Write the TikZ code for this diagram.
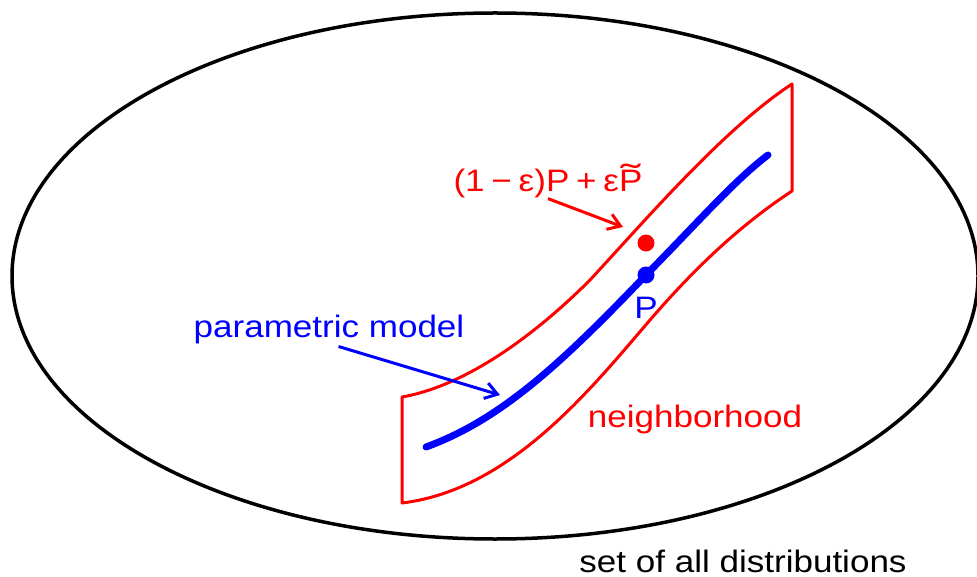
\documentclass[tikz,border=0pt]{standalone}
\usepackage{fontspec}
\setmainfont{Liberation Sans}[FakeStretch=1.13]
\usetikzlibrary{arrows.meta}
\definecolor{nbred}{RGB}{255,0,0}
\definecolor{modblue}{RGB}{0,0,255}
\newcommand{\Ptil}{\ooalign{P\cr\hidewidth\raisebox{0.12em}{\scalebox{1.7}[1.1]{˜}}\hidewidth\cr}}

\begin{document}
\begin{tikzpicture}[x=1pt,y=-1pt,
    lbl/.style={font=\fontsize{31}{36}\selectfont,inner sep=0pt,anchor=base},
    dot/.style={circle,inner sep=0pt,minimum size=17pt},
    arr/.style={-{Straight Barb[length=12pt,width=16pt]},line width=3pt}]
  \useasboundingbox (0,0) rectangle (977,577);
  \draw[line width=3.5pt] (495,276) ellipse [x radius=483pt,y radius=263pt];
  \draw[nbred,line width=3pt,line join=round]
    (402,397) .. controls (470,385) and (540,330) .. (590,280)
    .. controls (650,215) and (725,128) .. (792,84) -- (792,191)
    .. controls (745,222) and (700,262) .. (650,320)
    .. controls (590,390) and (510,490) .. (402,503) -- cycle;
  \draw[modblue,line width=7pt,line cap=round]
    (426,447) .. controls (500,420) and (560,365) .. (646,275)
    .. controls (700,220) and (735,180) .. (768,155);
  \node[dot,fill=nbred] (Peps) at (646,243) {};
  \node[dot,fill=modblue] (Pdot) at (646,275) {};
  \node[lbl,modblue] (Plbl) at (646,318) {P};
  \node[lbl,nbred] (eps) at (548,192)
    {(1\hspace{0.22em}−\hspace{0.22em}ε)P\hspace{0.22em}+\hspace{0.22em}ε\Ptil};
  \node[lbl,modblue] (model) at (329,337) {parametric model};
  \node[lbl,nbred] (nbhd) at (695,427) {neighborhood};
  \node[lbl] (alldist) at (743,572) {set of all distributions};
  \coordinate (epstip) at (623,227);
  \coordinate (modtip) at (500,395);
  \draw[arr,nbred] (eps.south) -- (epstip);
  \draw[arr,modblue,shorten <=10pt] (model.south) -- (modtip);
\end{tikzpicture}
\end{document}
